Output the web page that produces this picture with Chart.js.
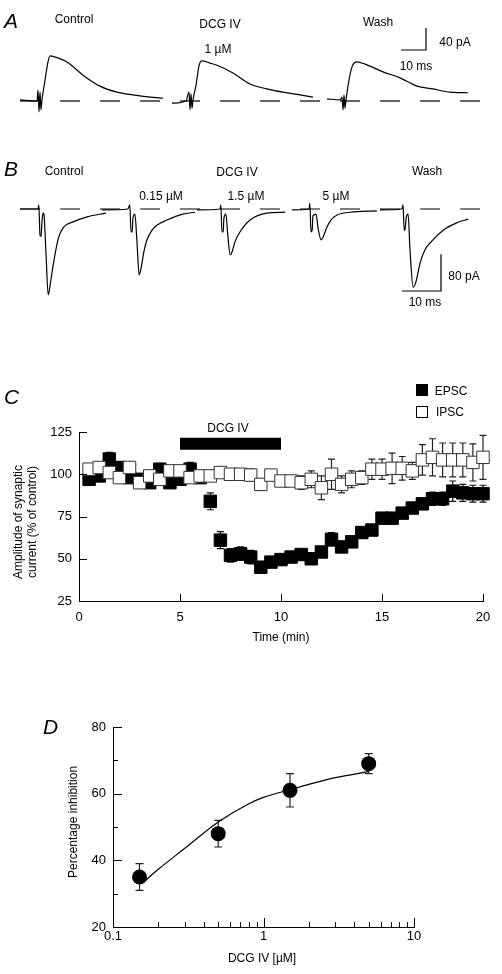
<!DOCTYPE html>
<html>
<head>
<meta charset="utf-8">
<script src="https://cdn.jsdelivr.net/npm/chart.js@4.4.0/dist/chart.umd.min.js"></script>
<style>
  body { margin: 0; background: #fff; }
  #page { position: relative; width: 502px; height: 974px; overflow: hidden; background: #fff;
          font-family: "Liberation Sans", Arial, sans-serif; color: #000; }
  canvas { position: absolute; left: 0; }
  .t { position: absolute; white-space: nowrap; transform: translate(-50%, -50%); font-size: 12px; line-height: 1; }
  .panel { position: absolute; font-size: 21px; font-style: italic; line-height: 1; }
  .rot { transform: translate(-50%, -50%) rotate(-90deg); }
  .sq { position: absolute; width: 12px; height: 12px; box-sizing: border-box; border: 1px solid #000; }
</style>
</head>
<body>
<div id="page">
  <canvas id="chartA" width="502" height="140" style="top:0"></canvas>
  <canvas id="chartB" width="502" height="170" style="top:150px"></canvas>
  <canvas id="chartC" width="502" height="330" style="top:330px"></canvas>
  <canvas id="chartD" width="502" height="284" style="top:690px"></canvas>

  <div class="panel" style="left:4px;top:10px">A</div>
  <div class="t" style="left:74px;top:19px">Control</div>
  <div class="t" style="left:220px;top:24px">DCG IV</div>
  <div class="t" style="left:218px;top:49px">1 µM</div>
  <div class="t" style="left:378px;top:22px">Wash</div>
  <div class="t" style="left:455px;top:42px">40 pA</div>
  <div class="t" style="left:416px;top:66px">10 ms</div>

  <div class="panel" style="left:4px;top:158px">B</div>
  <div class="t" style="left:64px;top:171px">Control</div>
  <div class="t" style="left:237px;top:172px">DCG IV</div>
  <div class="t" style="left:427px;top:171px">Wash</div>
  <div class="t" style="left:161px;top:196px">0.15 µM</div>
  <div class="t" style="left:246px;top:196px">1.5 µM</div>
  <div class="t" style="left:336px;top:196px">5 µM</div>
  <div class="t" style="left:464px;top:276px">80 pA</div>
  <div class="t" style="left:425px;top:302px">10 ms</div>

  <div class="panel" style="left:4px;top:386px">C</div>
  <div class="sq" style="left:416px;top:384px;background:#000"></div>
  <div class="t" style="left:451px;top:391px">EPSC</div>
  <div class="sq" style="left:416px;top:406px;background:#fff"></div>
  <div class="t" style="left:450px;top:412px">IPSC</div>
  <div class="t" style="left:228px;top:428px">DCG IV</div>
  <div class="t rot" style="left:18px;top:522px">Amplitude of synaptic</div>
  <div class="t rot" style="left:32px;top:522px">current (% of control)</div>
  <div class="t" style="left:281px;top:637px">Time (min)</div>

  <div class="panel" style="left:43px;top:716px">D</div>
  <div class="t rot" style="left:73px;top:822px">Percentage inhibition</div>
  <div class="t" style="left:262px;top:958px">DCG IV [µM]</div>
</div>

<script>
// ---- Panel A: EPSC traces, [ms from stimulus, pA] ----
const aControl = [[-8,2],[-1.2,0],[-0.8,20],[-0.4,-20],[0,16],[0.4,-16],[0.8,2],[2,38],[3.2,71],[4,82],[6,80],[10.8,71],[17.2,47],[24,27],[30.8,16],[37.2,11],[44,7],[49.2,5]];
const aDcg = [[-7.6,-4],[-2,0],[-0.8,16],[-0.4,-16],[0,13],[0.4,-13],[0.8,2],[2,29],[3.2,64],[4.4,73],[7.6,69],[10.4,65],[16.8,51],[23.6,31],[30.4,22],[36.8,16],[43.6,11],[48.8,7]];
const aWash = [[-6.4,4],[-1.2,2],[-0.4,7],[0,-16],[0.4,11],[0.8,-13],[1.2,2],[2.4,38],[3.6,62],[5.6,71],[8.8,67],[16,53],[22.8,42],[29.6,27],[36,22],[42.8,16],[50,15]];
const scaleA = { ms: 10, pA: 40 };

// ---- Panel B: IPSC traces, [ms from stimulus, pA] ----
const bControl = [[-5.1,0],[-0.5,0],[-0.3,9],[0,-57],[0.3,-59],[0.5,-28],[0.8,-9],[1.0,-11],[1.5,-89],[2.1,-187],[2.6,-165],[3.3,-126],[4.6,-67],[5.9,-41],[8.5,-28],[12.1,-17],[16.9,-9]];
const bDcg015 = [[-7.4,-2],[-0.8,0],[-0.3,9],[0,-50],[0.3,-50],[0.5,-20],[1.0,-11],[1.5,-67],[2.1,-143],[2.6,-128],[3.3,-93],[4.1,-67],[5.4,-46],[6.7,-35],[9.2,-24],[13.3,-11],[16.4,-7]];
const bDcg15 = [[-6.4,-2],[-0.5,0],[-0.3,9],[0,-50],[0.3,-50],[0.5,-20],[1.0,-11],[1.5,-59],[2.1,-100],[2.6,-93],[3.3,-72],[4.6,-50],[7.2,-24],[11.5,-9],[16.2,-7]];
const bDcg5 = [[-4.9,-2],[-0.5,0],[-0.3,13],[0,-50],[0.3,-46],[0.5,-15],[1.3,-11],[1.8,-41],[2.6,-67],[3.1,-61],[4.1,-39],[5.1,-24],[6.7,-13],[10,-7],[16.9,-4]];
const bWash = [[-5.9,-2],[-0.3,0],[0,9],[0.3,-46],[0.5,-46],[0.8,-20],[1.3,-11],[1.8,-89],[2.6,-170],[3.3,-159],[4.4,-117],[5.6,-89],[6.9,-74],[10.3,-46],[13.8,-30],[16.7,-22]];
const scaleB = { ms: 10, pA: 80 };

// ---- Panel C: time course (% of control) ----
const timeMin = [0.5,1,1.5,2,2.5,3,3.5,4,4.5,5,5.5,6,6.5,7,7.5,8,8.5,9,9.5,10,
                 10.5,11,11.5,12,12.5,13,13.5,14,14.5,15,15.5,16,16.5,17,17.5,18,18.5,19,19.5,20];
const epsc = [97,99,109,104,98,97,95,103,95,97,103,98,84,61,52,53,51,45,48,49.5,
              51,52.5,50,54,61.5,57,60,65.5,67,74,74,77,80,82.5,85.5,85.5,90,89,88.5,88.5];
const epscErr = [3,3,4,3,3,3,3,3,3,3,4,3,5,5,4,4,4,3,3,3,
                 3,3,3,3,4,3,3,3,3,3,3,3,3,3,4,4,6,5,5,5];
const ipsc = [103,104,101,98,104,95,99,97,102,102,98,99,99,101,100,100,99.5,94,99.5,96,
              96,95,97,92,100,94,97,98,103,103,103.5,103.5,102,108.5,110,108.5,108.5,108.5,107,110];
const ipscErr = [3,3,3,3,3,3,3,3,3,3,3,3,3,3,3,3,3.5,3.5,3,3,
                 3,4,5,7,9,5,5,4,6,6,9,7,5,9,11,10,10,10,11,13];
const dcgWindow = [5, 10];

// ---- Panel D: dose-response ----
const doseUM = [0.15, 0.5, 1.5, 5];
const inhibition = [35, 48, 61, 69];
const inhibitionErr = [4, 4, 5, 3];
const fitDose = [0.16, 0.2, 0.3, 0.5, 0.8, 1, 1.5, 2, 3, 5];
const fitInhib = [33.5, 37.3, 43.6, 51.5, 57, 58.9, 61.2, 62.8, 64.8, 66.6];

Chart.defaults.font.family = '"Liberation Sans", Arial, sans-serif';
Chart.defaults.color = '#000';

const font13 = { size: 13, family: '"Liberation Sans", Arial, sans-serif' };

function trace(points, offset) {
  return {
    data: points.map(p => ({ x: p[0] + offset, y: p[1] })),
    borderColor: '#000', borderWidth: 1.2, pointRadius: 0,
    cubicInterpolationMode: 'monotone'
  };
}
function plainLine(pts, extra) {
  return Object.assign({
    data: pts, borderColor: '#000', borderWidth: 1.2, pointRadius: 0, tension: 0
  }, extra || {});
}
function scaleBar(cornerX, cornerY, s) {
  return plainLine([{ x: cornerX - s.ms, y: cornerY }, { x: cornerX, y: cornerY }, { x: cornerX, y: cornerY + s.pA }]);
}
function hiddenScales(xmin, xmax, ymin, ymax) {
  return {
    x: { type: 'linear', display: false, min: xmin, max: xmax },
    y: { type: 'linear', display: false, min: ymin, max: ymax }
  };
}
const bare = {
  responsive: false, animation: false, events: [],
  layout: { padding: 0 },
  plugins: { legend: { display: false }, tooltip: { enabled: false } }
};

// error bars, drawn under the markers
const errorBars = {
  id: 'errorBars',
  beforeDatasetsDraw(chart) {
    const ctx = chart.ctx, xs = chart.scales.x, ys = chart.scales.y;
    ctx.save();
    chart.data.datasets.forEach(ds => {
      if (!ds.errors) return;
      ctx.strokeStyle = ds.errorColor || '#000';
      ctx.lineWidth = 1.2;
      ctx.beginPath();
      ds.data.forEach((p, j) => {
        const e = ds.errors[j];
        const px = xs.getPixelForValue(p.x);
        const top = ys.getPixelForValue(p.y + e), bot = ys.getPixelForValue(p.y - e);
        const c = ds.capHalf;
        ctx.moveTo(px, top); ctx.lineTo(px, bot);
        ctx.moveTo(px - c, top); ctx.lineTo(px + c, top);
        ctx.moveTo(px - c, bot); ctx.lineTo(px + c, bot);
      });
      ctx.stroke();
    });
    ctx.restore();
  }
};

// tick marks pointing into the plot
const innerTicks = {
  id: 'innerTicks',
  afterDraw(chart, args, opts) {
    if (!opts.marks) return;
    const ctx = chart.ctx, xs = chart.scales.x, ys = chart.scales.y;
    ctx.save();
    ctx.strokeStyle = '#000';
    ctx.lineWidth = 1;
    ctx.beginPath();
    opts.marks.forEach(m => {
      if (m.axis === 'x') {
        const px = Math.round(xs.getPixelForValue(m.v)) + 0.5;
        ctx.moveTo(px, ys.bottom); ctx.lineTo(px, ys.bottom - m.len);
      } else {
        const py = Math.round(ys.getPixelForValue(m.v)) + 0.5;
        ctx.moveTo(xs.left, py); ctx.lineTo(xs.left + m.len, py);
      }
    });
    ctx.stroke();
    ctx.restore();
  }
};

// ---- A ----
const pxPerMsA = 2.5, pxPerPaA = 0.55;
const stimA = [40, 191, 343].map(v => v / pxPerMsA);
new Chart(document.getElementById('chartA'), {
  type: 'line',
  data: { datasets: [
    plainLine([{ x: 8, y: 0 }, { x: 200, y: 0 }], { borderDash: [20, 20] }),
    trace(aControl, stimA[0]),
    trace(aDcg, stimA[1]),
    trace(aWash, stimA[2]),
    scaleBar(426 / pxPerMsA, (101 - 50) / pxPerPaA, scaleA)
  ] },
  options: Object.assign({}, bare, { scales: hiddenScales(0, 502 / pxPerMsA, -(140 - 101) / pxPerPaA, 101 / pxPerPaA) })
});

// ---- B ----
const pxPerMsB = 3.9, pxPerPaB = 0.46;
const stimB = [40, 131, 222, 311, 403].map(v => v / pxPerMsB);
new Chart(document.getElementById('chartB'), {
  type: 'line',
  data: { datasets: [
    plainLine([{ x: 20 / pxPerMsB, y: 0 }, { x: 500 / pxPerMsB, y: 0 }], { borderDash: [20, 20] }),
    trace(bControl, stimB[0]),
    trace(bDcg015, stimB[1]),
    trace(bDcg15, stimB[2]),
    trace(bDcg5, stimB[3]),
    trace(bWash, stimB[4]),
    scaleBar(441 / pxPerMsB, (209 - 291) / pxPerPaB, scaleB)
  ] },
  options: Object.assign({}, bare, { scales: hiddenScales(0, 502 / pxPerMsB, -(170 - 59) / pxPerPaB, 59 / pxPerPaB) })
});

// ---- C ----
new Chart(document.getElementById('chartC'), {
  type: 'scatter',
  data: { datasets: [
    {
      label: 'IPSC', order: 1,
      data: timeMin.map((t, i) => ({ x: t, y: ipsc[i] })),
      errors: ipscErr, capHalf: 3.5, errorColor: '#222',
      pointStyle: 'rect', pointRadius: 8.8, borderWidth: 1,
      backgroundColor: '#fff', borderColor: '#333'
    },
    {
      label: 'EPSC', order: 2,
      data: timeMin.map((t, i) => ({ x: t, y: epsc[i] })),
      errors: epscErr, capHalf: 3.5, errorColor: '#111',
      pointStyle: 'rect', pointRadius: 8.8, borderWidth: 1,
      backgroundColor: '#000', borderColor: '#000'
    },
    {
      label: 'DCG IV', order: 3, showLine: true,
      data: dcgWindow.map(t => ({ x: t, y: 118 })),
      borderColor: '#000', borderWidth: 12, borderCapStyle: 'butt', pointRadius: 0
    }
  ] },
  options: Object.assign({}, bare, {
    layout: { padding: { left: 0, right: 19, top: 102, bottom: 0 } },
    clip: false,
    scales: {
      x: {
        type: 'linear', min: 0, max: 20,
        ticks: { stepSize: 5, font: font13, padding: 9 },
        grid: { display: false, drawTicks: false },
        border: { display: true, color: '#000', width: 1 },
        afterFit: s => { s.height = 59; }
      },
      y: {
        type: 'linear', min: 25, max: 125,
        ticks: { stepSize: 25, font: font13, padding: 7 },
        grid: { display: false, drawTicks: false },
        border: { display: true, color: '#000', width: 1 },
        afterFit: s => { s.width = 79; }
      }
    },
    plugins: {
      legend: { display: false }, tooltip: { enabled: false },
      innerTicks: { marks: [0, 5, 10, 15, 20].map(v => ({ axis: 'x', v, len: 7 }))
        .concat([50, 75, 100, 125].map(v => ({ axis: 'y', v, len: 8 }))) }
    }
  }),
  plugins: [errorBars, innerTicks]
});

// ---- D ----
const minorD = [];
[0.1, 1].forEach(d => { for (let k = 2; k <= 9; k++) minorD.push(d * k); });
new Chart(document.getElementById('chartD'), {
  type: 'scatter',
  data: { datasets: [
    {
      data: doseUM.map((d, i) => ({ x: d, y: inhibition[i] })),
      errors: inhibitionErr, capHalf: 4, errorColor: '#222',
      pointStyle: 'circle', pointRadius: 7.5, borderWidth: 0,
      backgroundColor: '#000', order: 1
    },
    {
      data: fitDose.map((d, i) => ({ x: d, y: fitInhib[i] })),
      showLine: true, cubicInterpolationMode: 'monotone',
      borderColor: '#000', borderWidth: 1.2, pointRadius: 0, order: 2
    }
  ] },
  options: Object.assign({}, bare, {
    layout: { padding: { left: 0, right: 88, top: 37, bottom: 0 } },
    clip: false,
    scales: {
      x: {
        type: 'logarithmic', min: 0.1, max: 10,
        afterBuildTicks: s => { s.ticks = [0.1, 1, 10].map(v => ({ value: v })); },
        ticks: { font: font13, padding: 2, callback: v => String(v) },
        grid: { display: false, drawTicks: false },
        border: { display: true, color: '#000', width: 1 },
        afterFit: s => { s.height = 47; }
      },
      y: {
        type: 'linear', min: 20, max: 80,
        ticks: { stepSize: 20, font: font13, padding: 7 },
        grid: { display: false, drawTicks: false },
        border: { display: true, color: '#000', width: 1 },
        afterFit: s => { s.width = 113; }
      }
    },
    plugins: {
      legend: { display: false }, tooltip: { enabled: false },
      innerTicks: { marks:
        [1, 10].map(v => ({ axis: 'x', v, len: 9 }))
        .concat(minorD.map(v => ({ axis: 'x', v, len: 5 })))
        .concat([40, 60, 80].map(v => ({ axis: 'y', v, len: 9 })))
        .concat([30, 50, 70].map(v => ({ axis: 'y', v, len: 5 }))) }
    }
  }),
  plugins: [errorBars, innerTicks]
});
</script>
</body>
</html>
